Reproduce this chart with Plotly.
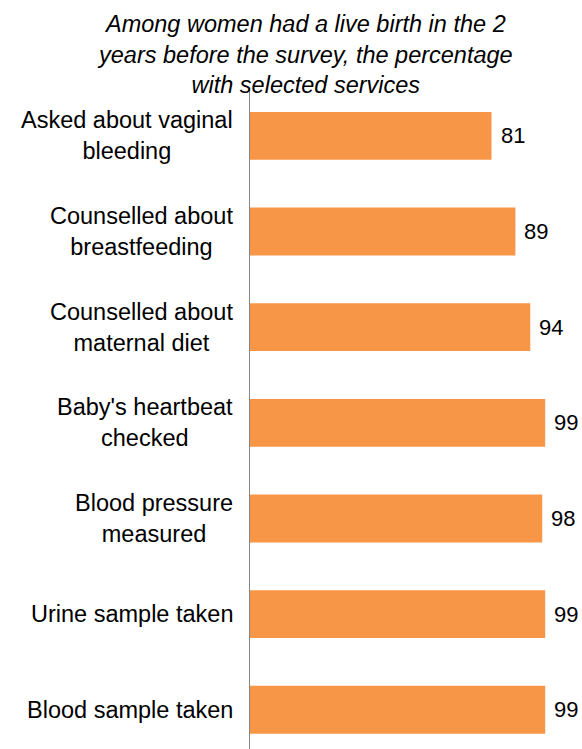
import plotly.graph_objects as go

services = ["Asked about vaginal<br>bleeding", "Counselled about<br>breastfeeding",
            "Counselled about<br>maternal diet", "Baby's heartbeat<br>checked",
            "Blood pressure<br>measured", "Urine sample taken", "Blood sample taken"]
percent = [81, 89, 94, 99, 98, 99, 99]

title_text = ("Among women had a live birth in the 2<br>years before the survey, the percentage"
              "<br>with selected services")

fig = go.Figure()
fig.add_trace(go.Bar(x=percent, y=services, orientation="h",
                     marker=dict(color="#F79646", line=dict(width=0)),
                     width=0.5))

fig.update_layout(width=582, height=749, plot_bgcolor="#ffffff", paper_bgcolor="#ffffff",
                  margin=dict(l=250, r=4, t=88, b=0, autoexpand=False), showlegend=False,
                  font=dict(family="Liberation Sans, Arial", size=23.5, color="#000000"))

fig.add_annotation(text="<i>" + title_text + "</i>", xref="paper", yref="paper",
                   x=0.1677, y=1, xanchor="center", yanchor="middle", yshift=34,
                   align="center", showarrow=False, font=dict(size=23.5))

# category labels centred line by line, block right-aligned against the axis
for s in services:
    fig.add_annotation(text=s, xref="paper", yref="y", x=0, y=s, xanchor="right",
                       yanchor="middle", xshift=-15, align="center", showarrow=False)

# value labels just past the end of each bar
for s, v in zip(services, percent):
    fig.add_annotation(text=str(v), xref="x", yref="y", x=v, y=s, xanchor="left",
                       yanchor="middle", xshift=7, showarrow=False, font=dict(size=22))

fig.update_xaxes(range=[0, 110], visible=False)
fig.update_yaxes(range=[6.41, -0.5], showline=True, linecolor="#868686", linewidth=1,
                 ticks="", showticklabels=False, showgrid=False, automargin=False)

# drop the default page margin so the figure fills the window exactly
fig.write_html("out.html", config={"displayModeBar": False},
               post_script="document.body.style.margin='0';document.body.style.overflow='hidden';")
